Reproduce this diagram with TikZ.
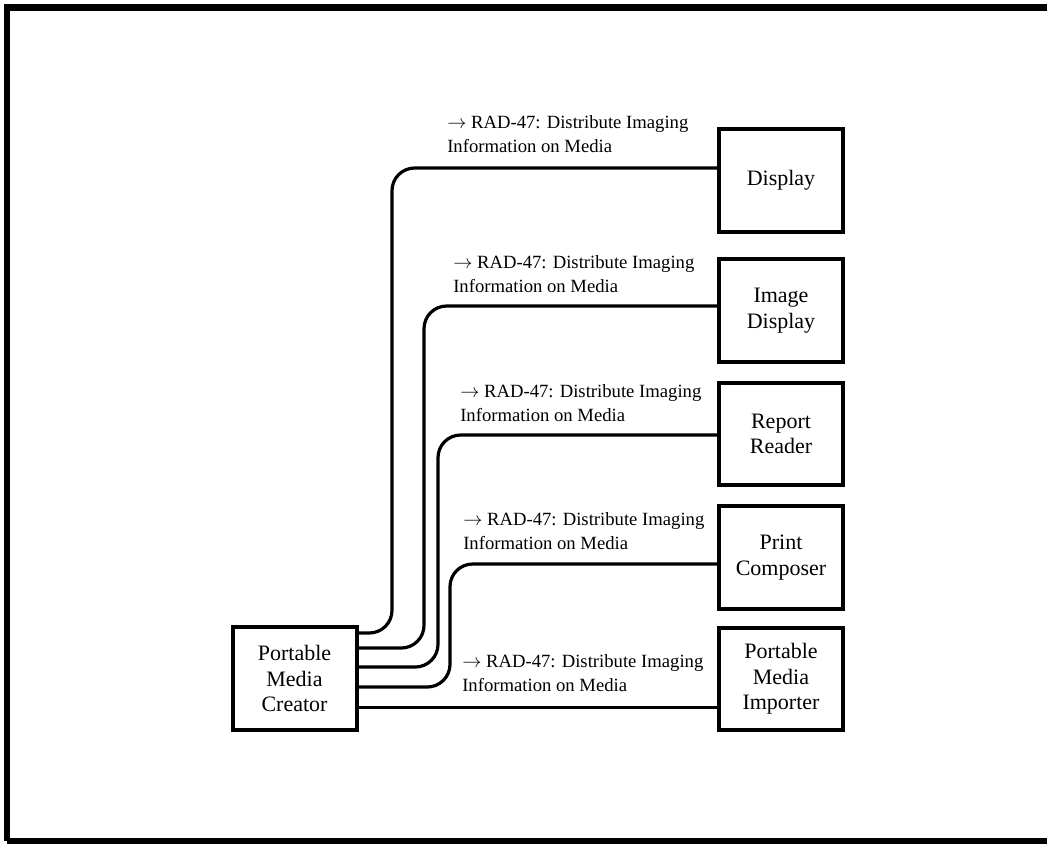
\documentclass[tikz,border=0pt]{standalone}
\usepackage{fontspec}
\setmainfont{Liberation Serif}
\usetikzlibrary{positioning}

\begin{document}
\begin{tikzpicture}[x=0.75pt, y=-0.75pt,
    actor/.style={draw, line width=3pt, minimum width=93pt, minimum height=77pt, inner sep=0pt,
      align=center, font=\fontsize{16.5}{19}\selectfont},
    flow/.style={line width=2.4pt, rounded corners=17pt},
    tx/.style={anchor=south west, inner sep=0pt, align=left, font=\fontsize{14}{18}\selectfont}]
    \useasboundingbox (0,0) rectangle (1047,844);
    \draw[line width=5pt] (7,841) -- (7,7.5) -- (1060,7.5);
    \draw[line width=5pt] (7,841) -- (1060,841);

    % Actors
    \node[actor] (creator) at (294.5,678.5) {Portable\\Media\\Creator};
    \node[actor] (display) at (781,180.5) {Display};
    \node[actor] (imgdisp) at (781,310.5) {Image\\Display};
    \node[actor] (reader) at (781,434) {Report\\Reader};
    \node[actor] (composer) at (781,557.5) {Print\\Composer};
    \node[actor] (importer) at (781,679) {Portable\\Media\\Importer};

    % Transactions
    \draw[flow] (creator.east |- 0,633) -| (392,168) -- (display.west |- 0,168);
    \draw[flow] (creator.east |- 0,648) -| (424,306) -- (imgdisp.west |- 0,306);
    \draw[flow] (creator.east |- 0,667) -| (438,435) -- (reader.west |- 0,435);
    \draw[flow] (creator.east |- 0,687) -| (450,564) -- (composer.west |- 0,564);
    \draw[flow] (creator.east |- 0,707.5) -- (importer.west |- 0,707.5);

    % Labels
    \node[tx] (t1) at (447,153) {$\rightarrow$ RAD-47: Distribute Imaging\\Information on Media};
    \node[tx] (t2) at (453,293) {$\rightarrow$ RAD-47: Distribute Imaging\\Information on Media};
    \node[tx] (t3) at (460,422) {$\rightarrow$ RAD-47: Distribute Imaging\\Information on Media};
    \node[tx] (t4) at (463,550) {$\rightarrow$ RAD-47: Distribute Imaging\\Information on Media};
    \node[tx] (t5) at (462,692) {$\rightarrow$ RAD-47: Distribute Imaging\\Information on Media};
  \end{tikzpicture}
\end{document}
